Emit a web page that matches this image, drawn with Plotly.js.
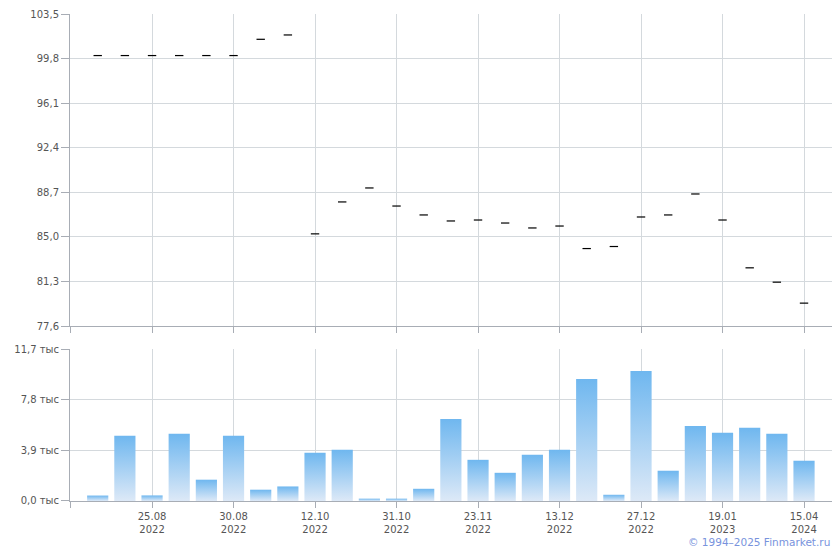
<!DOCTYPE html>
<html>
<head>
<meta charset="utf-8">
<script src="https://cdn.plot.ly/plotly-3.0.1.min.js"></script>
<style>html,body{margin:0;padding:0;background:#fff}#chart{width:840px;height:550px}</style>
</head>
<body>
<div id="chart"></div>
<script>
// Price per trade session (index-based sessions)
const price = [100.05, 100.05, 100.05, 100.05, 100.05, 100.05, 101.4, 101.76,
  85.25, 87.9, 89.06, 87.56, 86.82, 86.32, 86.4, 86.15, 85.74, 85.9,
  84.03, 84.2, 86.65, 86.82, 88.56, 86.4, 82.43, 81.24, 79.5];
// Volume per session
const volume = [420, 5020, 430, 5170, 1640, 5020, 870, 1120, 3710, 3940, 180, 180, 940,
  6320, 3170, 2170, 3560, 3940, 9390, 480, 10000, 2330, 5780, 5250, 5630, 5170, 3100];
// Labelled sessions on the x axis
const tickIdx = [2, 5, 8, 11, 14, 17, 20, 23, 26];
const tickLabels = ["25.08<br>2022", "30.08<br>2022", "12.10<br>2022", "31.10<br>2022",
  "23.11<br>2022", "13.12<br>2022", "27.12<br>2022", "19.01<br>2023", "15.04<br>2024"];
const priceTicks = [77.6, 81.3, 85.0, 88.7, 92.4, 96.1, 99.8, 103.5];
const priceTickText = ["77,6", "81,3", "85,0", "88,7", "92,4", "96,1", "99,8", "103,5"];
const volTicks = [0, 3900, 7800, 11700];
const volTickText = ["0,0 тыс", "3,9 тыс", "7,8 тыс", "11,7 тыс"];

const xs = price.map((_, i) => i);
const xRange = [-1.02, 27.03];
const gridC = '#d4d9dd';
const lineC = '#a8adb5';
const font = {family: 'DejaVu Sans, Verdana, sans-serif', size: 10, color: '#555'};

const traces = [
  {type: 'scatter', mode: 'markers', x: xs, y: price, xaxis: 'x2', yaxis: 'y2',
   marker: {symbol: 'line-ew', size: 6, line: {width: 1.2, color: '#000'}}, hoverinfo: 'none'},
  {type: 'bar', x: xs, y: volume, xaxis: 'x', yaxis: 'y',
   marker: {color: '#9ccbf2', line: {width: 0}}, hoverinfo: 'none'}
];

const xCommon = {
  range: xRange, showgrid: true, gridcolor: gridC, gridwidth: 1,
  showline: true, linecolor: lineC, linewidth: 1, zeroline: false,
  tickmode: 'array', ticks: 'outside', ticklen: 6, tickcolor: lineC, tickwidth: 1
};
const layout = {
  width: 840, height: 550,
  margin: {l: 70, r: 8, t: 14, b: 49},
  paper_bgcolor: '#fff', plot_bgcolor: '#fff',
  showlegend: false, bargap: 0.22,
  font: font,
  xaxis: Object.assign({}, xCommon, {anchor: 'y', tickvals: [xRange[0]].concat(tickIdx),
    ticktext: [''].concat(tickLabels), tickfont: font}),
  xaxis2: Object.assign({}, xCommon, {anchor: 'y2', matches: 'x', tickvals: [xRange[0]].concat(tickIdx),
    ticktext: [''].concat(tickIdx.map(() => '')), showticklabels: false}),
  yaxis: {domain: [0, 0.3121], range: [0, 11700], tickmode: 'array', tickvals: volTicks, ticktext: volTickText,
    showgrid: true, gridcolor: gridC, showline: true, linecolor: lineC, zeroline: false,
    ticks: 'outside', ticklen: 8, tickcolor: lineC, tickfont: font},
  yaxis2: {domain: [0.3593, 1], range: [77.6, 103.5], tickmode: 'array', tickvals: priceTicks, ticktext: priceTickText,
    showgrid: true, gridcolor: gridC, showline: true, linecolor: lineC, zeroline: false,
    ticks: 'outside', ticklen: 8, tickcolor: lineC, tickfont: font},
  annotations: [{
    xref: 'paper', yref: 'paper', x: 1, y: -0.084, xanchor: 'right', yanchor: 'middle',
    text: '© 1994–2025 Finmarket.ru', showarrow: false,
    font: {family: 'DejaVu Sans, Verdana, sans-serif', size: 10.5, color: '#7893dd'}
  }]
};

Plotly.newPlot('chart', traces, layout, {staticPlot: true, displayModeBar: false}).then(gd => {
  const svg = gd.querySelector('.main-svg');
  const ns = 'http://www.w3.org/2000/svg';
  let defs = svg.querySelector('defs');
  if (!defs) { defs = document.createElementNS(ns, 'defs'); svg.insertBefore(defs, svg.firstChild); }
  const g = document.createElementNS(ns, 'linearGradient');
  g.setAttribute('id', 'volGrad');
  g.setAttribute('x1', '0'); g.setAttribute('y1', '0'); g.setAttribute('x2', '0'); g.setAttribute('y2', '1');
  [['0', '#6fb7ef'], ['1', '#dde9f7']].forEach(([o, c]) => {
    const s = document.createElementNS(ns, 'stop');
    s.setAttribute('offset', o); s.setAttribute('stop-color', c);
    g.appendChild(s);
  });
  defs.appendChild(g);
  gd.querySelectorAll('.bars .point path').forEach(p => { p.style.fill = 'url(#volGrad)'; });
});
</script>
</body>
</html>
